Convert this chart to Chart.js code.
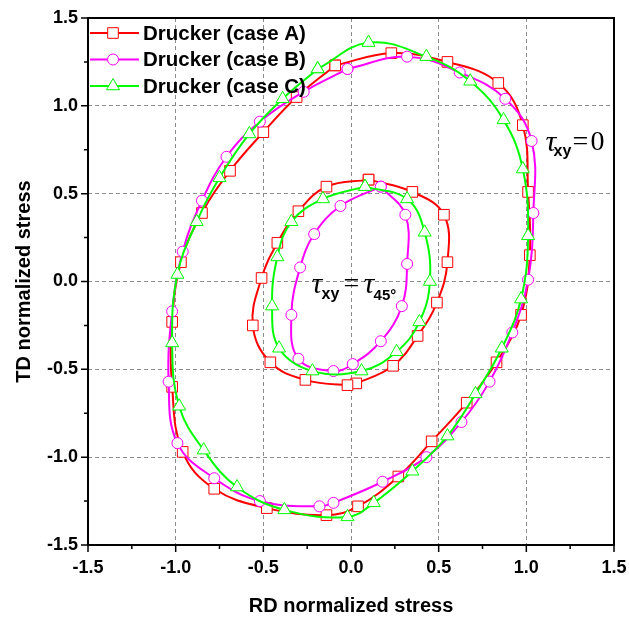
<!DOCTYPE html>
<html>
<head>
<meta charset="utf-8">
<script src="https://cdn.jsdelivr.net/npm/chart.js@4"></script>
<style>
  html, body { margin: 0; padding: 0; background: #fff; }
</style>
</head>
<body>
<canvas id="myChart" width="629" height="618"></canvas>
<script>
// values (RD, TD) - each loop is closed in code
const caseAOuter = [[-0.09,1.23],[0.23,1.30],[0.55,1.25],[0.84,1.13],[0.98,0.89],[1.01,0.51],[1.02,0.15],[0.97,-0.19],[0.83,-0.46],[0.66,-0.69],[0.46,-0.91],[0.27,-1.11],[0.04,-1.28],[-0.14,-1.33],[-0.48,-1.29],[-0.78,-1.18],[-0.96,-0.97],[-1.02,-0.60],[-1.02,-0.23],[-0.97,0.11],[-0.85,0.39],[-0.69,0.63],[-0.50,0.85],[-0.31,1.05]];
const caseBOuter = [[-0.02,1.21],[0.32,1.28],[0.62,1.19],[0.88,1.04],[1.03,0.80],[1.04,0.39],[1.01,0.01],[0.92,-0.29],[0.79,-0.57],[0.63,-0.80],[0.43,-1.00],[0.18,-1.14],[-0.10,-1.26],[-0.18,-1.28],[-0.52,-1.25],[-0.78,-1.12],[-0.99,-0.92],[-1.04,-0.57],[-1.02,-0.17],[-0.96,0.17],[-0.85,0.46],[-0.71,0.71],[-0.52,0.91],[-0.27,1.08]];
const caseCOuter = [[-0.19,1.21],[0.10,1.36],[0.43,1.28],[0.68,1.14],[0.87,0.92],[0.98,0.64],[1.01,0.26],[0.97,-0.10],[0.86,-0.38],[0.71,-0.64],[0.55,-0.88],[0.35,-1.08],[0.13,-1.26],[-0.02,-1.34],[-0.38,-1.30],[-0.65,-1.17],[-0.84,-0.96],[-0.98,-0.71],[-1.02,-0.35],[-0.99,0.04],[-0.88,0.34],[-0.75,0.59],[-0.58,0.84],[-0.39,1.04]];

const caseAInner = [[0.10,0.58],[0.35,0.51],[0.53,0.38],[0.55,0.11],[0.49,-0.12],[0.38,-0.31],[0.24,-0.48],[0.03,-0.58],[-0.02,-0.59],[-0.26,-0.56],[-0.46,-0.46],[-0.56,-0.25],[-0.51,0.02],[-0.42,0.22],[-0.30,0.40],[-0.14,0.54]];
const caseBInner = [[0.17,0.54],[0.31,0.38],[0.32,0.10],[0.29,-0.14],[0.17,-0.34],[0.01,-0.47],[-0.10,-0.51],[-0.30,-0.44],[-0.34,-0.19],[-0.29,0.08],[-0.21,0.27],[-0.06,0.43]];
const caseCInner = [[0.08,0.54],[0.32,0.47],[0.42,0.28],[0.45,0.00],[0.39,-0.23],[0.26,-0.40],[0.06,-0.51],[-0.22,-0.51],[-0.41,-0.38],[-0.45,-0.14],[-0.42,0.14],[-0.34,0.34],[-0.16,0.47]];

const seriesLabels = ["Drucker (case A)", "Drucker (case B)", "Drucker (case C)"];
const tickValues = [-1.5, -1.0, -0.5, 0.0, 0.5, 1.0, 1.5];
const minorTickValues = [-1.25, -0.75, -0.25, 0.25, 0.75, 1.25];

const SANS = "Arial, 'Liberation Sans', sans-serif";
const SERIF = "'Times New Roman', 'Liberation Serif', serif";

const styles = [
  { color: "#ff0000", marker: "rect", radius: 7.5, order: 3 },
  { color: "#ff00ff", marker: "circle", radius: 5.5, order: 2 },
  { color: "#00ff00", marker: "triangle", radius: 7.5, order: 1 }
];

function closeLoop(pts) {
  const out = pts.map(p => ({ x: p[0], y: p[1] }));
  out.push({ x: pts[0][0], y: pts[0][1] });
  return out;
}

function makeSet(label, pts, st) {
  return {
    label: label,
    data: closeLoop(pts),
    showLine: true,
    tension: 0.4,
    borderColor: st.color,
    borderWidth: 2,
    pointStyle: st.marker,
    pointRadius: st.radius,
    pointBorderWidth: 1,
    pointBorderColor: st.color,
    pointBackgroundColor: "#ffffff",
    order: st.order
  };
}

const outers = [caseAOuter, caseBOuter, caseCOuter];
const inners = [caseAInner, caseBInner, caseCInner];
const datasets = [];
outers.forEach((pts, i) => datasets.push(makeSet(seriesLabels[i], pts, styles[i])));
inners.forEach((pts, i) => datasets.push(makeSet("", pts, styles[i])));

const extras = {
  id: "extras",
  afterDraw(chart) {
    const ctx = chart.ctx;
    const { left, right, top, bottom } = chart.chartArea;
    const xs = chart.scales.x, ys = chart.scales.y;
    ctx.save();

    // ticks on left and bottom, outward
    ctx.strokeStyle = "#000";
    ctx.lineWidth = 1.5;
    ctx.beginPath();
    tickValues.concat(minorTickValues).forEach(v => {
      const len = tickValues.includes(v) ? 7 : 4;
      const py = ys.getPixelForValue(v);
      ctx.moveTo(left, py); ctx.lineTo(left - len, py);
      const px = xs.getPixelForValue(v);
      ctx.moveTo(px, bottom); ctx.lineTo(px, bottom + len);
    });
    ctx.stroke();

    // frame
    ctx.lineWidth = 2;
    ctx.strokeRect(left, top, right - left, bottom - top);

    // legend
    styles.forEach((st, i) => {
      const y = top + 15 + i * 26.5;
      ctx.strokeStyle = st.color;
      ctx.lineWidth = 2;
      ctx.beginPath();
      ctx.moveTo(left + 2, y); ctx.lineTo(left + 51, y);
      ctx.stroke();
      ctx.fillStyle = "#fff";
      ctx.lineWidth = 1;
      Chart.helpers.drawPoint(ctx, { pointStyle: st.marker, radius: st.radius, rotation: 0, borderWidth: 1 }, left + 25, y);
      ctx.fillStyle = "#000";
      ctx.font = "bold 20.5px " + SANS;
      ctx.textBaseline = "middle";
      ctx.textAlign = "left";
      ctx.fillText(seriesLabels[i], left + 55, y + 1);
    });

    // tau annotations
    ctx.fillStyle = "#000";
    ctx.textBaseline = "alphabetic";
    let ax = xs.getPixelForValue(1.11), ay = ys.getPixelForValue(0.745);
    ctx.font = "italic 30px " + SERIF;
    ctx.fillText("τ", ax, ay);
    ctx.font = "bold 16px " + SANS;
    ctx.fillText("xy", ax + 8, ay + 5);
    ctx.font = "28px " + SERIF;
    ctx.fillText("=", ax + 27, ay - 1);
    ctx.fillText("0", ax + 45, ay - 1);

    ax = xs.getPixelForValue(-0.225); ay = ys.getPixelForValue(-0.065);
    ctx.font = "italic 30px " + SERIF;
    ctx.fillText("τ", ax, ay);
    ctx.font = "bold 16px " + SANS;
    ctx.fillText("xy", ax + 10, ay + 6);
    ctx.font = "28px " + SERIF;
    ctx.fillText("=", ax + 32, ay - 1);
    ctx.font = "italic 30px " + SERIF;
    ctx.fillText("τ", ax + 52, ay);
    ctx.font = "bold 15px " + SANS;
    ctx.fillText("45°", ax + 62, ay + 7);

    ctx.restore();
  }
};

function axisOpts(title, isX) {
  return {
    type: "linear",
    min: -1.5,
    max: 1.5,
    afterBuildTicks: s => { s.ticks = tickValues.map(v => ({ value: v })); },
    afterFit: s => {
      if (isX) s.height = 73; else s.width = 88;
      s.paddingLeft = 0; s.paddingRight = 0; s.paddingTop = 0; s.paddingBottom = 0;
    },
    ticks: {
      callback: v => v.toFixed(1),
      color: "#000",
      font: { family: SANS, size: 18, weight: "bold" },
      padding: isX ? 12 : 10,
      maxRotation: 0,
      autoSkip: false
    },
    grid: {
      drawTicks: false,
      lineWidth: 1,
      color: c => (c.tick && Math.abs(c.tick.value) === 1.5) ? "rgba(0,0,0,0)" : "#8c8c8c"
    },
    border: { display: false, dash: [4, 3] },
    title: {
      display: true,
      text: title,
      color: "#000",
      font: { family: SANS, size: 20, weight: "bold" },
      padding: isX ? { top: 0, bottom: 0 } : { top: 12, bottom: 0 }
    }
  };
}

new Chart(document.getElementById("myChart"), {
  type: "scatter",
  data: { datasets: datasets },
  options: {
    responsive: false,
    animation: false,
    events: [],
    layout: { padding: { left: 0, right: 15, top: 18, bottom: 0 } },
    plugins: { legend: { display: false }, tooltip: { enabled: false } },
    scales: {
      x: axisOpts("RD normalized stress", true),
      y: axisOpts("TD normalized stress", false)
    }
  },
  plugins: [extras]
});
</script>
</body>
</html>
